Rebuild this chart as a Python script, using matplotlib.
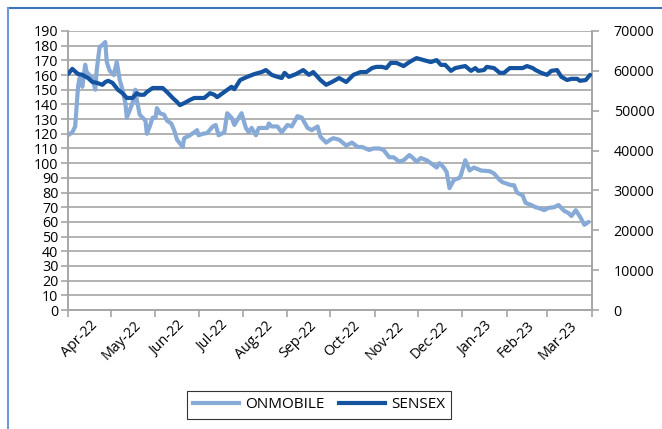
import matplotlib
matplotlib.use("Agg")
import matplotlib.pyplot as plt
import pandas as pd
from matplotlib.lines import Line2D

# ---------------- data ----------------
onmobile_dates = [
    "2022-04-01", "2022-04-04", "2022-04-06", "2022-04-08", "2022-04-09", "2022-04-11",
    "2022-04-13", "2022-04-14", "2022-04-18", "2022-04-20", "2022-04-21", "2022-04-23",
    "2022-04-25", "2022-04-27", "2022-04-28", "2022-04-30", "2022-05-03", "2022-05-05",
    "2022-05-07", "2022-05-09", "2022-05-11", "2022-05-12", "2022-05-14", "2022-05-16",
    "2022-05-18", "2022-05-19", "2022-05-21", "2022-05-23", "2022-05-25", "2022-05-26",
    "2022-05-28", "2022-05-30", "2022-06-01", "2022-06-02", "2022-06-04", "2022-06-07",
    "2022-06-09", "2022-06-12", "2022-06-14", "2022-06-16", "2022-06-20", "2022-06-21",
    "2022-06-25", "2022-06-28", "2022-06-30", "2022-07-01", "2022-07-04", "2022-07-07",
    "2022-07-11", "2022-07-13", "2022-07-15", "2022-07-19", "2022-07-21", "2022-07-24",
    "2022-07-26", "2022-07-31", "2022-08-03", "2022-08-05", "2022-08-07", "2022-08-10",
    "2022-08-12", "2022-08-18", "2022-08-19", "2022-08-21", "2022-08-25", "2022-08-28",
    "2022-09-01", "2022-09-04", "2022-09-08", "2022-09-11", "2022-09-15", "2022-09-18",
    "2022-09-22", "2022-09-24", "2022-09-28", "2022-10-01", "2022-10-03", "2022-10-07",
    "2022-10-12", "2022-10-16", "2022-10-20", "2022-10-23", "2022-10-28", "2022-10-31",
    "2022-11-04", "2022-11-07", "2022-11-11", "2022-11-14", "2022-11-18", "2022-11-21",
    "2022-11-25", "2022-11-27", "2022-11-30", "2022-12-03", "2022-12-07", "2022-12-10",
    "2022-12-14", "2022-12-16", "2022-12-19", "2022-12-21", "2022-12-23", "2022-12-26",
    "2022-12-30", "2022-12-31", "2023-01-03", "2023-01-06", "2023-01-09", "2023-01-14",
    "2023-01-20", "2023-01-23", "2023-01-27", "2023-01-29", "2023-02-01", "2023-02-04",
    "2023-02-06", "2023-02-08", "2023-02-12", "2023-02-14", "2023-02-18", "2023-02-21",
    "2023-02-23", "2023-02-27", "2023-03-02", "2023-03-06", "2023-03-09", "2023-03-13",
    "2023-03-16", "2023-03-18", "2023-03-21", "2023-03-24", "2023-03-27", "2023-03-30",
]
onmobile_values = [
    119, 121, 125, 152, 158, 152,
    167, 162, 158, 150, 163, 179,
    180.5, 182.5, 169, 163, 160, 169,
    157, 150, 141, 131, 136, 141,
    150, 143, 133, 131, 129, 120,
    125, 131, 131, 137.5, 134, 133,
    129, 127, 122.5, 116, 111, 117,
    119, 121, 122.5, 119, 120, 120.5,
    125, 126, 119, 121, 134, 131,
    126, 134, 124, 121, 124, 119,
    124, 124, 127, 125, 125, 121,
    126, 125, 132, 131, 124, 122.5,
    125, 118, 114, 116, 117, 116,
    112, 114, 111, 111, 109, 110,
    110, 109, 104, 104, 101, 102,
    105.5, 104, 101, 103.5, 102, 100,
    97, 100, 97, 94, 83, 88.5,
    90, 92, 102, 95, 97, 95,
    94.5, 93, 88.5, 87, 86, 85,
    85, 80, 78, 73, 71.5, 70,
    69.5, 68, 69.5, 70, 71.5, 67.5,
    66, 64, 68, 63.5, 58, 60,
]

sensex_dates = [
    "2022-04-01", "2022-04-04", "2022-04-08", "2022-04-11", "2022-04-15", "2022-04-18",
    "2022-04-21", "2022-04-25", "2022-04-27", "2022-04-29", "2022-05-02", "2022-05-06",
    "2022-05-09", "2022-05-12", "2022-05-16", "2022-05-19", "2022-05-21", "2022-05-24",
    "2022-05-26", "2022-05-30", "2022-06-02", "2022-06-06", "2022-06-09", "2022-06-13",
    "2022-06-16", "2022-06-18", "2022-06-21", "2022-06-25", "2022-06-28", "2022-07-02",
    "2022-07-05", "2022-07-09", "2022-07-12", "2022-07-14", "2022-07-19", "2022-07-24",
    "2022-07-26", "2022-07-30", "2022-08-04", "2022-08-09", "2022-08-14", "2022-08-17",
    "2022-08-21", "2022-08-25", "2022-08-28", "2022-08-30", "2022-09-02", "2022-09-07",
    "2022-09-12", "2022-09-16", "2022-09-19", "2022-09-24", "2022-09-28", "2022-10-02",
    "2022-10-07", "2022-10-12", "2022-10-17", "2022-10-22", "2022-10-26", "2022-10-30",
    "2022-11-02", "2022-11-06", "2022-11-09", "2022-11-12", "2022-11-16", "2022-11-21",
    "2022-11-25", "2022-11-30", "2022-12-05", "2022-12-10", "2022-12-14", "2022-12-17",
    "2022-12-20", "2022-12-24", "2022-12-27", "2022-12-31", "2023-01-03", "2023-01-07",
    "2023-01-10", "2023-01-12", "2023-01-16", "2023-01-18", "2023-01-23", "2023-01-27",
    "2023-01-30", "2023-02-03", "2023-02-08", "2023-02-12", "2023-02-15", "2023-02-19",
    "2023-02-21", "2023-02-25", "2023-03-01", "2023-03-04", "2023-03-08", "2023-03-11",
    "2023-03-15", "2023-03-18", "2023-03-22", "2023-03-24", "2023-03-28", "2023-03-31",
]
sensex_values = [
    59200, 60500, 59200, 59000, 58200, 57200,
    57000, 56500, 57200, 57500, 57000, 55200,
    54400, 53200, 53200, 54400, 54000, 54000,
    54700, 55700, 55700, 55700, 54700, 53200,
    52200, 51400, 51900, 52700, 53200, 53200,
    53200, 54400, 54000, 53400, 54700, 56000,
    55400, 57700, 58500, 59200, 59700, 60200,
    59000, 58500, 58200, 59500, 58500, 59200,
    60200, 59000, 59700, 57700, 56500, 57200,
    58200, 57200, 59000, 59700, 59700, 60700,
    61000, 61000, 60700, 62000, 62000, 61200,
    62200, 63200, 62700, 62200, 62700, 61500,
    61500, 60000, 60700, 61000, 61200, 60000,
    60700, 60000, 60200, 61000, 60700, 59500,
    59500, 60700, 60700, 60700, 61200, 60700,
    60200, 59500, 59000, 60000, 60200, 58500,
    57700, 58000, 58000, 57500, 57700, 59000,
]

month_labels = ["Apr-22", "May-22", "Jun-22", "Jul-22", "Aug-22", "Sep-22",
                "Oct-22", "Nov-22", "Dec-22", "Jan-23", "Feb-23", "Mar-23"]
left_ticks = list(range(0, 191, 10))
right_ticks = list(range(0, 70001, 10000))
series_names = ["ONMOBILE", "SENSEX"]

# ---------------- style ----------------
C_ON = "#87aad6"
C_SX = "#14539f"
GRID = "#a6a6a6"
FONT = ["Open Sans", "DejaVu Sans"]
plt.rcParams["font.family"] = FONT
TICK_FS = 10.3

fig = plt.figure(figsize=(6.62, 4.29), dpi=100)
ax = fig.add_axes([68 / 662, 1 - 310 / 429, (591.5 - 68) / 662, (310 - 31) / 429])
ax2 = ax.twinx()

on_x = pd.to_datetime(onmobile_dates)
sx_x = pd.to_datetime(sensex_dates)

ax.plot(on_x, onmobile_values, color=C_ON, lw=3.0, solid_joinstyle="round",
        solid_capstyle="round", zorder=3)
ax2.plot(sx_x, sensex_values, color=C_SX, lw=3.0, solid_joinstyle="round",
         solid_capstyle="round", zorder=3)

start = pd.Timestamp("2022-04-01")
end = pd.Timestamp("2023-04-01")
ax.set_xlim(start, end)
ax.set_ylim(0, 190)
ax2.set_ylim(0, 70000)

ax.set_yticks(left_ticks)
ax2.set_yticks(right_ticks)
ax.yaxis.grid(True, color=GRID, lw=1.2)
ax.set_axisbelow(True)

# month boundary ticks, labels at mid-month
month_starts = pd.date_range(start, end, freq="MS")
ax.set_xticks(month_starts)
ax.set_xticklabels([])
mids = [month_starts[i] + (month_starts[i + 1] - month_starts[i]) / 2 for i in range(12)]
ax.set_xticks(mids, minor=True)
ax.set_xticklabels(month_labels, minor=True, rotation=45, ha="right",
                   rotation_mode="anchor", fontsize=TICK_FS)
ax.tick_params(axis="x", which="minor", length=0, pad=6)
ax.tick_params(axis="x", which="major", length=5, color=GRID, width=1.2)

ax.tick_params(axis="y", labelsize=TICK_FS, length=5, color=GRID, width=1.2, pad=2)
ax2.tick_params(axis="y", labelsize=TICK_FS, length=5, color=GRID, width=1.2, pad=11)

for a in (ax, ax2):
    a.spines["top"].set_visible(False)
    for s in ("left", "right", "bottom"):
        a.spines[s].set_color(GRID)
        a.spines[s].set_linewidth(1.2)

# legend
handles = [Line2D([], [], color=C_ON, lw=3.0), Line2D([], [], color=C_SX, lw=3.0)]
leg = fig.legend(handles, series_names, loc="center", bbox_to_anchor=(319 / 662, 1 - 405 / 429),
                 ncol=2, frameon=True, fancybox=False, fontsize=11, handlelength=3.0,
                 handletextpad=0.4, columnspacing=1.0, borderpad=0.4)
leg.get_frame().set_edgecolor("black")
leg.get_frame().set_linewidth(0.8)

# outer frame (top and left edges)
fig.add_artist(Line2D([7.5 / 662, 1.0], [1 - 8 / 429, 1 - 8 / 429], color="#3f74bd", lw=1.5,
                      transform=fig.transFigure))
fig.add_artist(Line2D([7.5 / 662, 7.5 / 662], [1 - 8 / 429, 0], color="#6e9bd4", lw=1.5,
                      transform=fig.transFigure))

fig.savefig("out.png", dpi=100)
